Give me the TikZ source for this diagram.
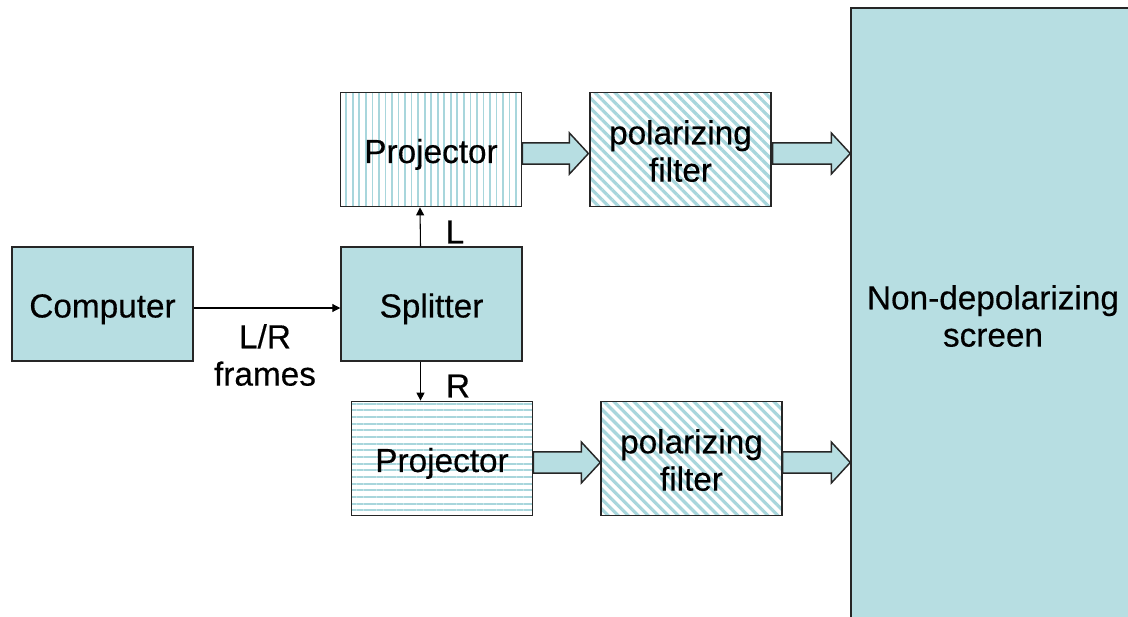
\documentclass[tikz,border=0pt]{standalone}
\usepackage{fontspec}
\setmainfont{Liberation Sans}[FakeBold=0.4]
\usetikzlibrary{positioning, calc, arrows.meta, patterns.meta}

\definecolor{aqua}{RGB}{183,222,226}
\definecolor{aqualine}{RGB}{168,214,220}

\tikzset{
    box/.style={draw=black!85, line width=1.1pt, minimum width=135.75pt, minimum height=85.5pt,
        align=center, font=\fontsize{25}{28}\selectfont, inner sep=0pt},
    plain/.style={box, fill=aqua},
    vlines/.style={box, pattern={Lines[angle=90, distance=4.9pt, line width=1.3pt]}, pattern color=aqualine},
    hlines/.style={box, pattern={Lines[angle=0, distance=5pt, line width=1.3pt]}, pattern color=aqualine},
    dlines/.style={box, pattern={Lines[angle=-45, distance=5.3pt, line width=2.4pt]}, pattern color=aqualine},
    sig/.style={line width=0.8pt, -{Triangle[length=6pt, width=6pt]}},
    fat/.style={draw=black!85, line width=1.1pt, fill=aqua},
    lbl/.style={font=\fontsize{25}{28}\selectfont, align=center}
}

% box text, set a little low as in the slides
\newcommand{\boxtext}[1]{\raisebox{-4.5pt}[\height][\depth]{\begin{tabular}{@{}c@{}}#1\end{tabular}}}

% outlined block arrow from #1 to the x of #2
\newcommand{\fatarrow}[2]{%
    \draw[fat] let \p1=(#1), \p2=(#2) in
        (\x1,\y1+7.9pt) -- (\x2-14.25pt,\y1+7.9pt) -- (\x2-14.25pt,\y1+15.4pt) -- (\x2,\y1)
        -- (\x2-14.25pt,\y1-15.4pt) -- (\x2-14.25pt,\y1-7.9pt) -- (\x1,\y1-7.9pt) -- cycle;}

\begin{document}
\begin{tikzpicture}[x=0.75pt, y=-0.75pt]
    \useasboundingbox (0,0) rectangle (1128,617);

    \node[box, fill=aqua, minimum width=213pt, minimum height=462pt] (scr) at (993,316) {Non-depolarizing\\screen};

    \node[plain] (comp) at (102.5,304) {\boxtext{Computer}};
    \node[plain] (split) at (431.5,304) {\boxtext{Splitter}};
    \node[vlines] (projL) at (431,149.5) {\boxtext{Projector}};
    \node[dlines] (filtL) at (680.5,149.5) {\boxtext{polarizing\\filter}};
    \node[hlines] (projR) at (442,458.5) {\boxtext{Projector}};
    \node[dlines] (filtR) at (691.5,458.5) {\boxtext{polarizing\\filter}};

    % signal lines
    \draw[sig] ([yshift=-3pt]comp.east) -- ([yshift=-3pt]split.west);
    \node[lbl] (frames) at (265,355) {L/R\\frames};
    \draw[sig] ([xshift=-8.25pt]split.north) -- ([xshift=-8.25pt]projL.south);
    \node[lbl] (lL) at (455,232) {L};
    \draw[sig] ([xshift=-8.25pt]split.south) coordinate (r0) -- (r0 |- projR.north);
    \node[lbl] (lR) at (458,386) {R};

    % light paths
    \fatarrow{$(projL.east)+(0,4)$}{filtL.west}
    \fatarrow{$(filtL.east)+(0,4)$}{scr.west}
    \fatarrow{$(projR.east)+(0,4)$}{filtR.west}
    \fatarrow{$(filtR.east)+(0,4)$}{scr.west}
\end{tikzpicture}
\end{document}
